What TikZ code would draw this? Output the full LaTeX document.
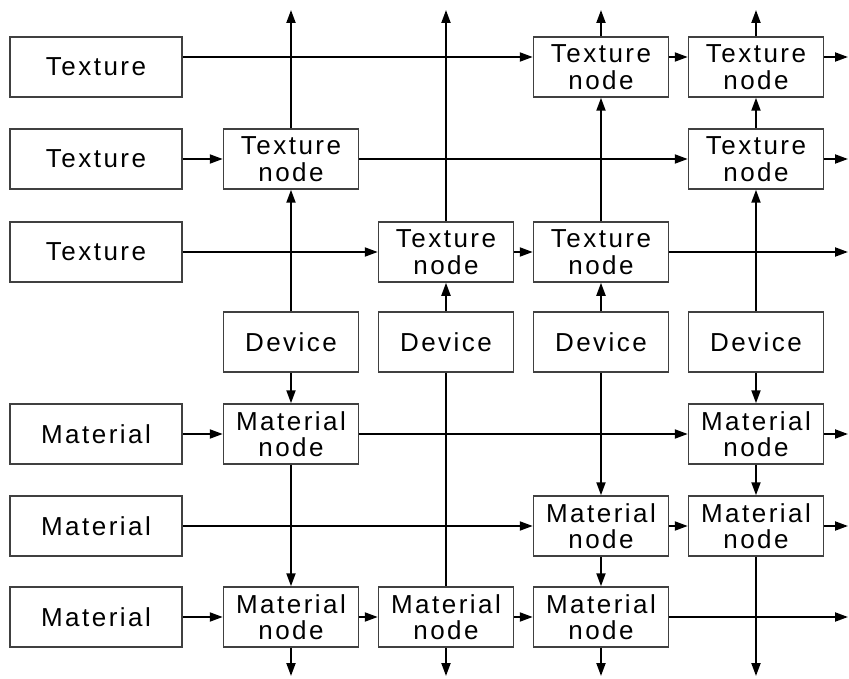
\documentclass[tikz,border=0pt]{standalone}
\usepackage{fontspec}
\newfontfamily\lblfont[LetterSpace=9.5]{Liberation Sans}
\usetikzlibrary{arrows.meta}
\begin{document}
\begin{tikzpicture}[x=1pt,y=-1pt,
  box/.style={draw=black!75, line width=1.5pt, minimum width=135pt, minimum height=60pt, inner sep=0pt, align=center, font=\lblfont\fontsize{26}{26.5}\selectfont},
  src/.style={box, minimum width=172pt},
  conn/.style={line width=2pt, -{Triangle[length=13pt,width=9pt]}},
  plain/.style={line width=2pt}]
\useasboundingbox (0,0) rectangle (849,679);
% source boxes
\node[src] (tx1) at (96,67) {Texture};
\node[src] (tx2) at (96,159) {Texture};
\node[src] (tx3) at (96,252) {Texture};
\node[src] (mt1) at (96,434) {Material};
\node[src] (mt2) at (96,526) {Material};
\node[src] (mt3) at (96,617) {Material};
% texture nodes
\node[box] (t31) at (601,67) {Texture\\node};
\node[box] (t41) at (756,67) {Texture\\node};
\node[box] (t12) at (291,159) {Texture\\node};
\node[box] (t42) at (756,159) {Texture\\node};
\node[box] (t23) at (446,252) {Texture\\node};
\node[box] (t33) at (601,252) {Texture\\node};
% devices
\node[box] (d1) at (291,342) {Device};
\node[box] (d2) at (446,342) {Device};
\node[box] (d3) at (601,342) {Device};
\node[box] (d4) at (756,342) {Device};
% material nodes
\node[box] (m11) at (291,434) {Material\\node};
\node[box] (m41) at (756,434) {Material\\node};
\node[box] (m32) at (601,526) {Material\\node};
\node[box] (m42) at (756,526) {Material\\node};
\node[box] (m13) at (291,617) {Material\\node};
\node[box] (m23) at (446,617) {Material\\node};
\node[box] (m33) at (601,617) {Material\\node};
% free ends
\coordinate (up1) at (291,10);
\coordinate (up2) at (446,10);
\coordinate (up3) at (601,10);
\coordinate (up4) at (756,10);
\coordinate (dn1) at (291,676);
\coordinate (dn2) at (446,676);
\coordinate (dn3) at (601,676);
\coordinate (dn4) at (756,676);
\coordinate (r1) at (848,57);
\coordinate (r2) at (848,159);
\coordinate (r3) at (848,252);
\coordinate (rm1) at (848,434);
\coordinate (rm2) at (848,526);
\coordinate (rm3) at (848,617);
% vertical connectors
\draw[conn] (t12.north) -- (up1);
\draw[conn] (d1.north) -- (t12.south);
\draw[conn] (d1.south) -- (m11.north);
\draw[conn] (m11.south) -- (m13.north);
\draw[conn] (m13.south) -- (dn1);
\draw[conn] (t23.north) -- (up2);
\draw[conn] (d2.north) -- (t23.south);
\draw[plain] (d2.south) -- (m23.north);
\draw[conn] (m23.south) -- (dn2);
\draw[conn] (t31.north) -- (up3);
\draw[conn] (t33.north) -- (t31.south);
\draw[conn] (d3.north) -- (t33.south);
\draw[conn] (d3.south) -- (m32.north);
\draw[conn] (m32.south) -- (m33.north);
\draw[conn] (m33.south) -- (dn3);
\draw[conn] (t41.north) -- (up4);
\draw[conn] (t42.north) -- (t41.south);
\draw[conn] (d4.north) -- (t42.south);
\draw[conn] (d4.south) -- (m41.north);
\draw[conn] (m41.south) -- (m42.north);
\draw[conn] (m42.south) -- (dn4);
% horizontal connectors
\draw[conn] ([yshift=10pt]tx1.east) -- ([yshift=10pt]t31.west);
\draw[conn] ([yshift=10pt]t31.east) -- ([yshift=10pt]t41.west);
\draw[conn] ([yshift=10pt]t41.east) -- (r1);
\draw[conn] (tx2.east) -- (t12.west);
\draw[conn] (t12.east) -- (t42.west);
\draw[conn] (t42.east) -- (r2);
\draw[conn] (tx3.east) -- (t23.west);
\draw[conn] (t23.east) -- (t33.west);
\draw[conn] (t33.east) -- (r3);
\draw[conn] (mt1.east) -- (m11.west);
\draw[conn] (m11.east) -- (m41.west);
\draw[conn] (m41.east) -- (rm1);
\draw[conn] (mt2.east) -- (m32.west);
\draw[conn] (m32.east) -- (m42.west);
\draw[conn] (m42.east) -- (rm2);
\draw[conn] (mt3.east) -- (m13.west);
\draw[conn] (m13.east) -- (m23.west);
\draw[conn] (m23.east) -- (m33.west);
\draw[conn] (m33.east) -- (rm3);
\end{tikzpicture}
\end{document}
